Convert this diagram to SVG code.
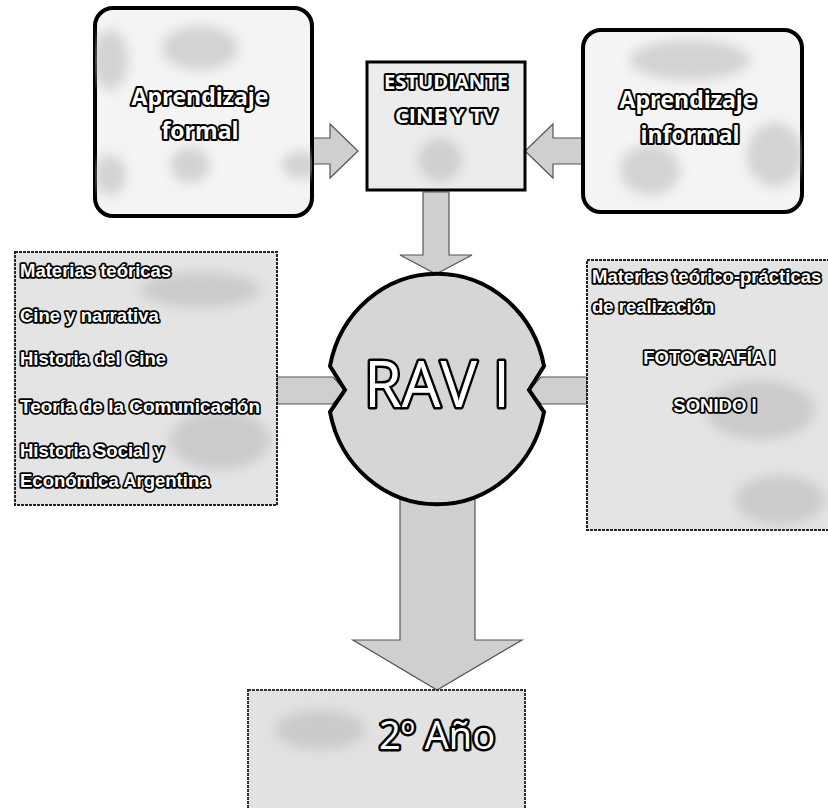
<svg xmlns="http://www.w3.org/2000/svg" width="828" height="808" viewBox="0 0 828 808">
<style>
  .lbl { font-family: "Open Sans", "Liberation Sans", sans-serif; font-weight: bold; fill: #ffffff; stroke: #000000; stroke-width: 4; paint-order: stroke; stroke-linejoin: round; }
  .big { font-family: "Open Sans", "Liberation Sans", sans-serif; font-weight: normal; fill: #ffffff; stroke: #000000; stroke-width: 5; paint-order: stroke; stroke-linejoin: round; }
  .list { font-family: "Liberation Sans", "Open Sans", sans-serif; font-weight: bold; font-size: 18.5px; fill: #ffffff; stroke: #000000; stroke-width: 3.5; paint-order: stroke; stroke-linejoin: round; }
  .card { fill: #f4f4f4; stroke: #000000; stroke-width: 4; }
  .panel { fill: #e4e4e4; stroke: #222222; stroke-width: 2; stroke-dasharray: 3 1; }
  .arrow { fill: #cfcfcf; stroke: #555555; stroke-width: 1.2; }
  .blob { fill: #b8b8b8; opacity: 0.55; filter: url(#soft); }
</style>
<defs>
  <filter id="soft" x="-30%" y="-30%" width="160%" height="160%">
    <feGaussianBlur stdDeviation="6"/>
  </filter>
  <clipPath id="cFormal"><rect x="95" y="8" width="217" height="208" rx="18"/></clipPath>
  <clipPath id="cInformal"><rect x="583" y="30" width="219" height="182" rx="18"/></clipPath>
</defs>
<rect width="828" height="808" fill="#ffffff"/>

<g id="connectors">
  <polygon class="arrow" points="300,138 330,138 330,124 358,151 330,178 330,164 300,164"/>
  <polygon class="arrow" points="585,138 553,138 553,124 525,151 553,178 553,164 585,164"/>
  <polygon class="arrow" points="423,192 449,192 449,255 472,255 436,274 400,255 423,255"/>
  <polygon class="arrow" points="277,377 333,377 345,390 333,404 277,404"/>
  <polygon class="arrow" points="587,377 541,377 529,390 541,404 587,404"/>
  <polygon class="arrow" points="400,497 475,497 475,640 522,640 437,690 353,640 400,640"/>
</g>

<g id="node-formal">
  <rect class="card" x="95" y="8" width="217" height="208" rx="18"/>
  <g clip-path="url(#cFormal)">
    <ellipse class="blob" cx="200" cy="48" rx="38" ry="22"/>
    <ellipse class="blob" cx="110" cy="60" rx="18" ry="30"/>
    <ellipse class="blob" cx="190" cy="165" rx="20" ry="18"/>
    <ellipse class="blob" cx="110" cy="175" rx="16" ry="20"/>
    <ellipse class="blob" cx="300" cy="165" rx="18" ry="14"/>
  </g>
  <text class="lbl" x="200" y="105" font-size="23" text-anchor="middle">Aprendizaje</text>
  <text class="lbl" x="200" y="139" font-size="23" text-anchor="middle">formal</text>
</g>

<g id="node-estudiante">
  <rect x="367" y="62" width="158" height="128" fill="#ececec" stroke="#000" stroke-width="3"/>
  <ellipse class="blob" cx="440" cy="160" rx="22" ry="22"/>
  <text class="lbl" x="446" y="89" font-size="20" text-anchor="middle" textLength="124" lengthAdjust="spacingAndGlyphs">ESTUDIANTE</text>
  <text class="lbl" x="446" y="123" font-size="20" text-anchor="middle" textLength="102" lengthAdjust="spacingAndGlyphs">CINE Y TV</text>
</g>

<g id="node-informal">
  <rect class="card" x="583" y="30" width="219" height="182" rx="18"/>
  <g clip-path="url(#cInformal)">
    <ellipse class="blob" cx="690" cy="60" rx="60" ry="20"/>
    <ellipse class="blob" cx="650" cy="170" rx="30" ry="25"/>
    <ellipse class="blob" cx="775" cy="155" rx="28" ry="32"/>
  </g>
  <text class="lbl" x="688" y="108" font-size="23" text-anchor="middle">Aprendizaje</text>
  <text class="lbl" x="690" y="143" font-size="23" text-anchor="middle">informal</text>
</g>

<g id="node-teoricas">
  <rect class="panel" x="15" y="252" width="262" height="253"/>
  <ellipse class="blob" cx="200" cy="290" rx="60" ry="18"/>
  <ellipse class="blob" cx="220" cy="440" rx="50" ry="30"/>
  <text class="list" x="20" y="277">Materias teóricas</text>
  <text class="list" x="20" y="322">Cine y narrativa</text>
  <text class="list" x="20" y="365">Historia del Cine</text>
  <text class="list" x="20" y="413" textLength="240" lengthAdjust="spacingAndGlyphs">Teoría de la Comunicación</text>
  <text class="list" x="20" y="457">Historia Social y</text>
  <text class="list" x="20" y="487">Económica Argentina</text>
</g>

<g id="node-rav">
  <path d="M 330,366 A 109 114 0 0 1 544,366 L 529,390 L 544,412 A 109 114 0 0 1 330,412 L 345,390 Z" fill="#d6d6d6" stroke="#000" stroke-width="4"/>
  <text class="big" x="437" y="407" font-size="64" text-anchor="middle" textLength="146" lengthAdjust="spacingAndGlyphs">RAV I</text>
</g>

<g id="node-practicas">
  <rect class="panel" x="587" y="260" width="250" height="270"/>
  <ellipse class="blob" cx="760" cy="410" rx="55" ry="30"/>
  <ellipse class="blob" cx="780" cy="500" rx="45" ry="25"/>
  <text class="list" x="592" y="283">Materias teórico-prácticas</text>
  <text class="list" x="592" y="313">de realización</text>
  <text class="list" x="709" y="364" text-anchor="middle">FOTOGRAFÍA I</text>
  <text class="list" x="715" y="412" text-anchor="middle">SONIDO I</text>
</g>

<g id="node-anio">
  <rect x="248" y="690" width="277" height="130" fill="#e2e2e2" stroke="#333" stroke-width="2" stroke-dasharray="3 1"/>
  <ellipse class="blob" cx="320" cy="730" rx="45" ry="20"/>
  <text class="big" x="437" y="749" font-size="38" text-anchor="middle" stroke-width="4">2º Año</text>
</g>
</svg>
